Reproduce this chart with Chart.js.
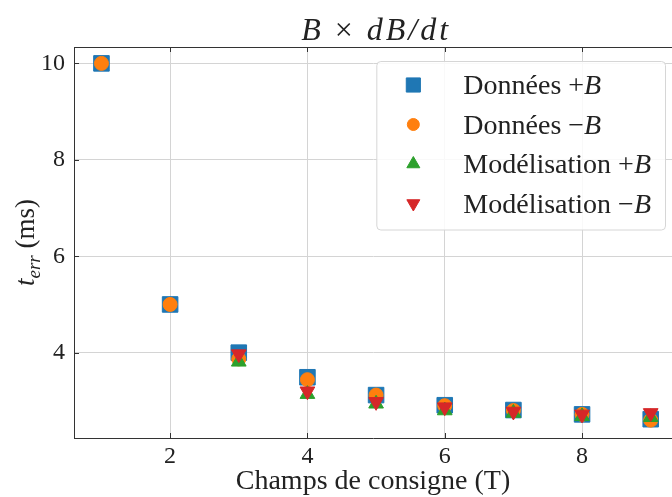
<!DOCTYPE html>
<html>
<head>
<meta charset="utf-8">
<script src="https://cdn.jsdelivr.net/npm/chart.js@4.4.0/dist/chart.umd.min.js"></script>
<style>
    html, body { margin: 0; padding: 0; background: #fff; }
</style>
</head>
<body>
<canvas id="chart" width="672" height="497"></canvas>
<script>
// --- DATA ---
const champs = [1, 2, 3, 4, 5, 6, 7, 8, 9];
const champsModel = [3, 4, 5, 6, 7, 8, 9];
const donneesPlusB = [10.0, 5.0, 4.0, 3.49, 3.12, 2.91, 2.81, 2.72, 2.62];
const donneesMoinsB = [10.0, 5.0, 3.87, 3.44, 3.12, 2.9, 2.8, 2.72, 2.6];
const modelPlusB = [3.81, 3.14, 2.94, 2.8, 2.75, 2.68, 2.66];
const modelMoinsB = [3.97, 3.2, 2.98, 2.87, 2.78, 2.72, 2.75];
const xTicks = [2, 4, 6, 8];
const yTicks = [4, 6, 8, 10];

const SERIF = '"Liberation Serif", "DejaVu Serif", serif';
const INK = '#222';

const toPoints = (xs, ys) => xs.map((x, i) => ({ x, y: ys[i] }));

const series = [
    { name: 'Données', sign: '+', xs: champs, ys: donneesPlusB, color: '#1f77b4', style: 'rect', radius: 11, rotation: 0 },
    { name: 'Données', sign: '\u2212', xs: champs, ys: donneesMoinsB, color: '#ff7f0e', style: 'circle', radius: 7, rotation: 0 },
    { name: 'Modélisation', sign: '+', xs: champsModel, ys: modelPlusB, color: '#2ca02c', style: 'triangle', radius: 8.5, rotation: 0 },
    { name: 'Modélisation', sign: '\u2212', xs: champsModel, ys: modelMoinsB, color: '#d62728', style: 'triangle', radius: 8.5, rotation: 180 }
];

// --- DECORATIONS: title, y label with subscript, top spine, inward ticks, legend ---
const drawPieces = (ctx, pieces, x, y) => {
    let cx = x;
    pieces.forEach(p => {
        ctx.font = p.font;
        ctx.fillText(p.text, cx, y + (p.dy || 0));
        cx += ctx.measureText(p.text).width;
    });
};
const piecesWidth = (ctx, pieces) => pieces.reduce((w, p) => { ctx.font = p.font; return w + ctx.measureText(p.text).width; }, 0);

const decorPlugin = {
    id: 'decor',
    afterDraw(chart) {
        const { ctx, chartArea: a, scales: { x, y } } = chart;
        ctx.save();

        // top spine
        ctx.strokeStyle = '#333';
        ctx.lineWidth = 1;
        ctx.beginPath();
        ctx.moveTo(a.left, a.top + 0.5);
        ctx.lineTo(a.right, a.top + 0.5);
        ctx.stroke();

        // ticks pointing in
        ctx.beginPath();
        xTicks.forEach(v => {
            const px = Math.round(x.getPixelForValue(v)) + 0.5;
            ctx.moveTo(px, a.bottom); ctx.lineTo(px, a.bottom - 5);
            ctx.moveTo(px, a.top); ctx.lineTo(px, a.top + 5);
        });
        yTicks.forEach(v => {
            const py = Math.round(y.getPixelForValue(v)) + 0.5;
            ctx.moveTo(a.left, py); ctx.lineTo(a.left + 5, py);
        });
        ctx.stroke();

        ctx.fillStyle = INK;
        ctx.textBaseline = 'alphabetic';
        ctx.textAlign = 'left';

        // title  B × dB/dt
        const titleSize = 32;
        ctx.letterSpacing = '3px';
        const title = [
            { text: 'B', font: `italic ${titleSize}px ${SERIF}` },
            { text: ' \u00d7 ', font: `${titleSize}px ${SERIF}` },
            { text: 'dB/dt', font: `italic ${titleSize}px ${SERIF}` }
        ];
        const tw = piecesWidth(ctx, title);
        const tcx = x.getPixelForValue(5.0);
        drawPieces(ctx, title, tcx - tw / 2, 40);
        ctx.letterSpacing = '0px';

        // y label  t_err (ms)
        const ylab = [
            { text: 't', font: `italic 27px ${SERIF}` },
            { text: 'err', font: `italic 19px ${SERIF}`, dy: 6 },
            { text: ' (ms)', font: `27px ${SERIF}` }
        ];
        const yw = piecesWidth(ctx, ylab);
        ctx.save();
        ctx.translate(34, (a.top + a.bottom) / 2);
        ctx.rotate(-Math.PI / 2);
        drawPieces(ctx, ylab, -yw / 2, 0);
        ctx.restore();

        // legend
        const legFont = `28px ${SERIF}`;
        const legItalic = `italic 28px ${SERIF}`;
        const rows = series.map(s => [
            { text: s.name + ' ', font: legFont },
            { text: s.sign, font: legFont },
            { text: 'B', font: legItalic }
        ]);
        const maxW = Math.max(...rows.map(r => piecesWidth(ctx, r)));
        const boxW = 87 + maxW + 14;
        const boxL = a.right - 7 - boxW;
        const boxT = a.top + 14;
        const rowH = 39.5;
        const boxH = 24 + rowH * 3 + 26;
        ctx.beginPath();
        ctx.roundRect(boxL + 0.5, boxT + 0.5, boxW, boxH, 4);
        ctx.fillStyle = 'rgba(255,255,255,0.85)';
        ctx.fill();
        ctx.strokeStyle = '#d6d6d6';
        ctx.stroke();

        series.forEach((s, i) => {
            const ry = boxT + 24 + i * rowH;
            ctx.fillStyle = s.color;
            ctx.strokeStyle = s.color;
            ctx.lineWidth = 1;
            Chart.helpers.drawPoint(ctx, { pointStyle: s.style, radius: s.radius - 1, rotation: s.rotation, borderWidth: 1 }, boxL + 37, ry);
            ctx.fillStyle = INK;
            drawPieces(ctx, rows[i], boxL + 87, ry + 9);
        });

        ctx.restore();
    }
};

// --- CHART ---
new Chart(document.getElementById('chart'), {
    type: 'scatter',
    data: {
        datasets: series.map((s, i) => ({
            label: `${s.name} ${s.sign}B`,
            data: toPoints(s.xs, s.ys),
            pointStyle: s.style,
            pointRadius: s.radius,
            pointRotation: s.rotation,
            pointHoverRadius: s.radius,
            backgroundColor: s.color,
            borderColor: s.color,
            borderWidth: 1,
            order: series.length - i
        }))
    },
    options: {
        responsive: false,
        animation: false,
        layout: { autoPadding: false, padding: { top: 47, left: 0, right: 0, bottom: 0 } },
        plugins: { legend: { display: false }, tooltip: { enabled: false } },
        scales: {
            x: {
                type: 'linear',
                min: 0.6,
                max: 9.31,
                afterBuildTicks: scale => { scale.ticks = xTicks.map(v => ({ value: v })); },
                afterFit: scale => { scale.height = 59; },
                grid: { color: '#d4d4d4', drawTicks: false },
                border: { color: '#333', width: 1 },
                ticks: { padding: 4, maxRotation: 0, color: INK, font: { family: SERIF, size: 24 } },
                title: { display: true, text: 'Champs de consigne (T)', color: INK, font: { family: SERIF, size: 28, lineHeight: 1.0 }, padding: { top: 0, bottom: 1 } }
            },
            y: {
                type: 'linear',
                min: 2.23,
                max: 10.34,
                afterBuildTicks: scale => { scale.ticks = yTicks.map(v => ({ value: v })); },
                afterFit: scale => { scale.width = 74; },
                grid: { color: '#d4d4d4', drawTicks: false },
                border: { color: '#333', width: 1 },
                ticks: { padding: 9, color: INK, font: { family: SERIF, size: 24 } }
            }
        }
    },
    plugins: [decorPlugin]
});
</script>
</body>
</html>
